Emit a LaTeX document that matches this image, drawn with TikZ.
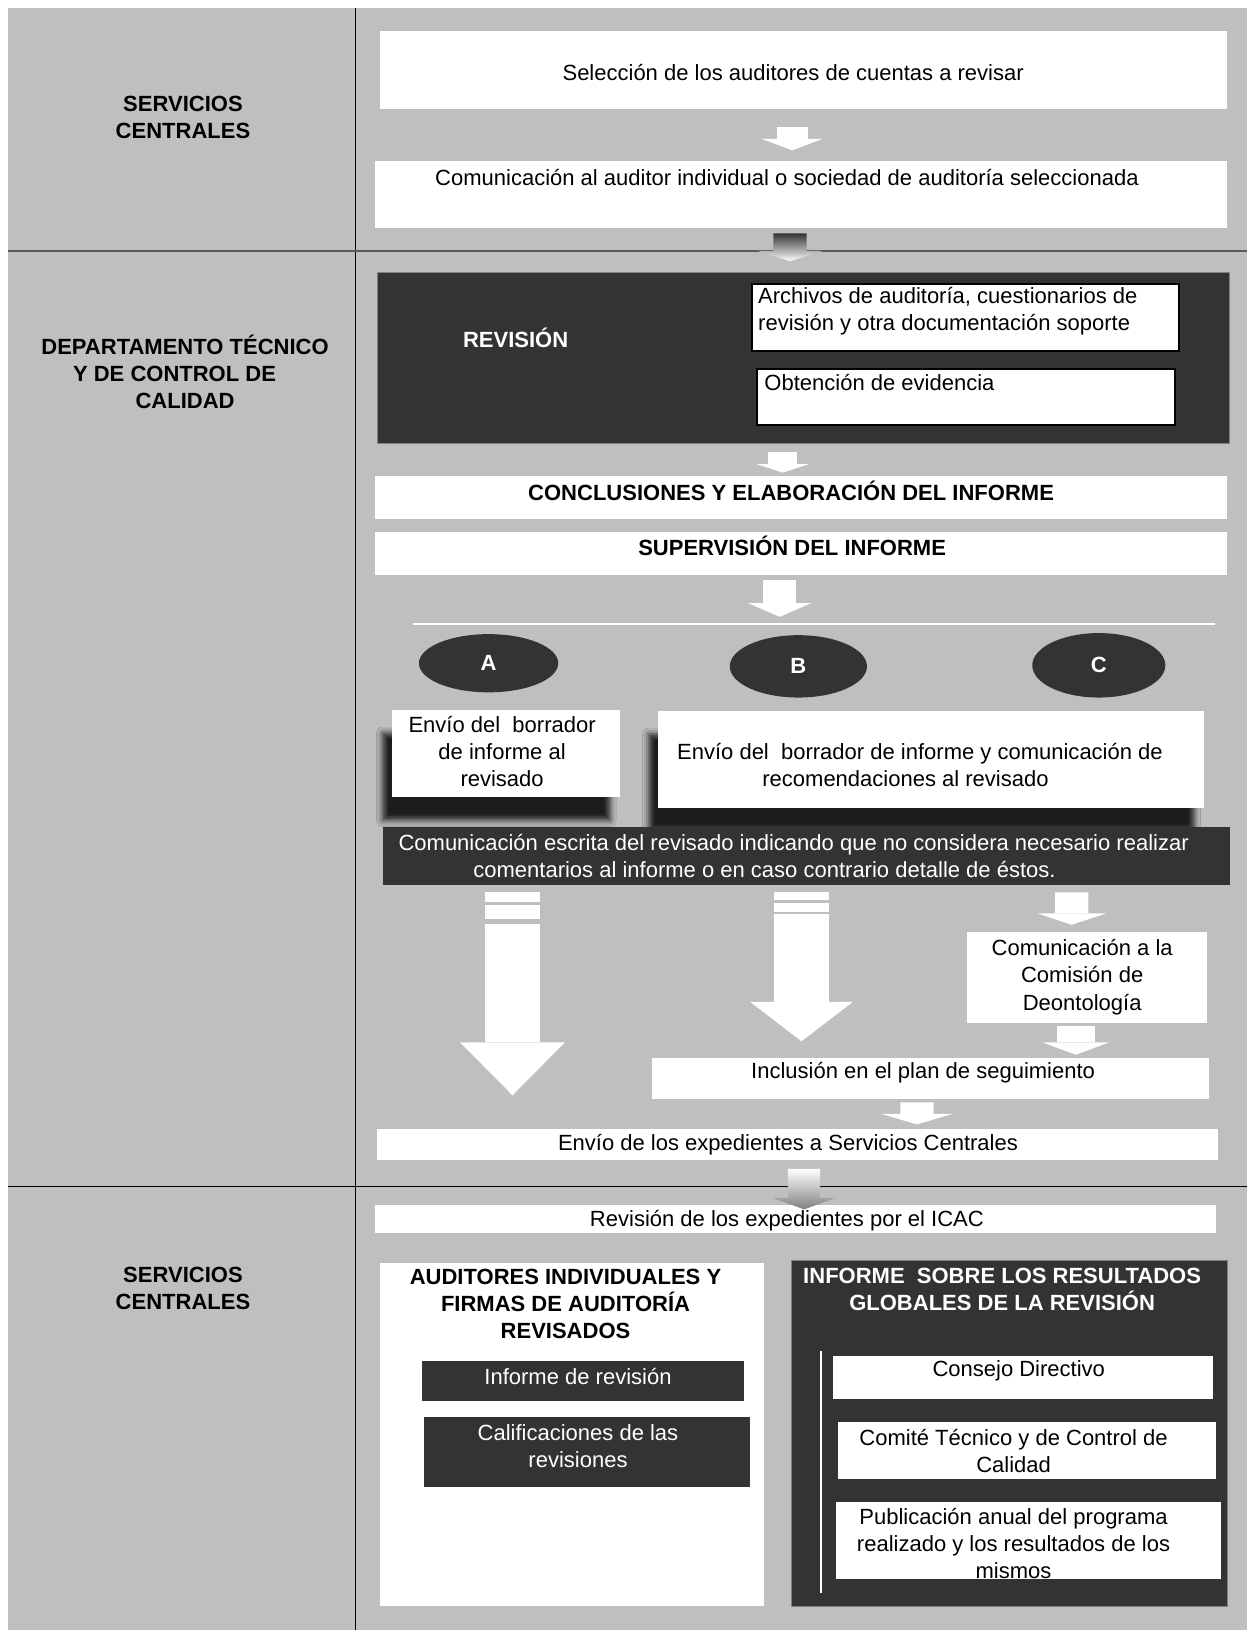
\documentclass[tikz,border=0pt]{standalone}
\usepackage{fontspec}
\setmainfont{Liberation Sans}
\usetikzlibrary{arrows.meta, positioning, fit, calc, shapes.geometric, shadows.blur}

\newdimen\pxu \pxu=0.5196pt

\definecolor{lanegray}{RGB}{191,191,191}
\definecolor{panel}{RGB}{51,51,51}
\definecolor{rulegray}{RGB}{90,90,90}

\tikzset{
  wbox/.style={fill=white, inner sep=0pt},
  dbox/.style={fill=panel, inner sep=0pt},
  txt/.style={font=\fontsize{11}{13.5}\selectfont, align=center, inner sep=0pt},
  btxt/.style={txt, font=\fontsize{11}{13.5}\selectfont\bfseries},
  wtxt/.style={txt, text=white},
  lanetxt/.style={btxt},
  oval/.style={ellipse, fill=panel, inner sep=0pt, text=white, font=\fontsize{11}{13.5}\selectfont\bfseries},
  shadowed/.style={blur shadow={shadow xshift=-4.7pt, shadow yshift=-11.5pt, shadow blur radius=3pt, shadow opacity=85}},
  % shaft width in picture units, head width and length in pt
  fat/.style n args={3}{draw=white, line width=#1\pxu, -{Triangle[width=#2, length=#3, line width=0pt]}}
}

\begin{document}
\begin{tikzpicture}[x=0.5196pt, y=-0.5196pt]
\useasboundingbox (0,0) rectangle (1200,1568);

% lanes
\fill[lanegray] (8,8) rectangle (1200,1568);
\draw[line width=0.6pt] (342,8) -- (342,1568);
\draw[rulegray, line width=1pt] (8,241) -- (1200,241);
\draw[line width=0.6pt] (8,1141) -- (1200,1141);

\node[lanetxt] (sc1) at (176,113) {SERVICIOS\\CENTRALES};
\node[lanetxt] (dtc) at (178,358) {DEPARTAMENTO TÉCNICO\\Y DE CONTROL DE\rule{10.5pt}{0pt}\\CALIDAD};
\node[lanetxt] (sc2) at (176,1239) {SERVICIOS\\CENTRALES};

% servicios centrales
\node[wbox, fit={(366,30) (1180,105)}] (sel) {};
\node[txt] (selT) at (763,70) {Selección de los auditores de cuentas a revisar};
\node[wbox, fit={(361,155) (1180,219)}] (com) {};
\node[txt] (comT) at (757,171) {Comunicación al auditor individual o sociedad de auditoría seleccionada};

% revision
\node[dbox, draw=gray, line width=0.5pt, fit={(363,262) (1183,427)}] (rev) {};
\node[wtxt, font=\fontsize{11}{13.5}\selectfont\bfseries] (revT) at (496,325) {REVISIÓN};
\node[wbox, draw=black, line width=1pt, fit={(723,273) (1134,338)}] (arch) {};
\node[txt, anchor=west, align=left] (archT) at (729,299) {Archivos de auditoría, cuestionarios de\\revisión y otra documentación soporte};
\node[wbox, draw=black, line width=1pt, fit={(728,355) (1130,409)}] (obt) {};
\node[txt, anchor=west] (obtT) at (735,368) {Obtención de evidencia};

\node[wbox, fit={(361,458) (1180,499)}] (conc) {};
\node[btxt] (concT) at (761,472) {CONCLUSIONES Y ELABORACIÓN DEL INFORME};
\node[wbox, fit={(361,512) (1180,553)}] (sup) {};
\node[btxt] (supT) at (762,525) {SUPERVISIÓN DEL INFORME};

% branches
\coordinate (brL) at (397,600);
\coordinate (brR) at (1169,600);
\draw[white, line width=1pt] (brL) -- (brR);
\node[oval, minimum width=134\pxu, minimum height=56\pxu] (optA) at (470,638) {A};
\node[oval, minimum width=132\pxu, minimum height=60\pxu] (optB) at (768,641) {B};
\node[oval, minimum width=128\pxu, minimum height=62\pxu] (optC) at (1057,640) {C};

\node[wbox, shadowed, fit={(377,683) (596,767)}] (envA) {};
\node[txt] (envAT) at (483,723) {Envío del\ \ borrador\\de informe al\\revisado};
\node[wbox, shadowed, fit={(633,684) (1158,777)}] (envB) {};
\node[txt, anchor=west, align=left] (envBT) at (651,736) {Envío del\ \ borrador de informe y comunicación de\\\hspace*{42.6pt}recomendaciones al revisado};

\node[dbox, fit={(368,796) (1183,851)}] (cmt) {};
\node[wtxt, anchor=west, align=left] (cmtT) at (383,823) {Comunicación escrita del revisado indicando que no considera necesario realizar\\\hspace*{37.4pt}comentarios al informe o en caso contrario detalle de éstos.};

\node[wbox, fit={(930,897) (1161,984)}] (deon) {};
\node[txt] (deonT) at (1041,940) {Comunicación a la\\Comisión de\\Deontología};
\node[wbox, fit={(627,1018) (1163,1057)}] (incl) {};
\node[txt] (inclT) at (888,1032) {Inclusión en el plan de seguimiento};
\node[wbox, fit={(363,1086) (1172,1116)}] (env) {};
\node[txt] (envT) at (758,1101) {Envío de los expedientes a Servicios Centrales};

% servicios centrales (final)
\node[wbox, fit={(361,1159) (1170,1186)}] (icac) {};
\node[txt] (icacT) at (757,1174) {Revisión de los expedientes por el ICAC};

\node[wbox, fit={(366,1215) (735,1545)}] (aud) {};
\node[btxt] (audT) at (544,1254) {AUDITORES INDIVIDUALES Y\\FIRMAS DE AUDITORÍA\\REVISADOS};
\node[dbox, fit={(406,1309) (716,1348)}] (infr) {};
\node[wtxt] (infrT) at (556,1324) {Informe de revisión};
\node[dbox, fit={(408,1363) (721,1430)}] (calif) {};
\node[wtxt] (califT) at (556,1391) {Calificaciones de las\\revisiones};

\node[dbox, draw=gray, line width=0.5pt, fit={(761,1213) (1181,1545)}] (glob) {};
\node[wtxt, font=\fontsize{11}{13.5}\selectfont\bfseries] (globT) at (964,1240) {INFORME\ \ SOBRE LOS RESULTADOS\\GLOBALES DE LA REVISIÓN};
\draw[white, line width=0.8pt] (790,1300) -- (790,1532);
\node[wbox, fit={(801,1304) (1167,1346)}] (cons) {};
\node[txt] (consT) at (980,1319) {Consejo Directivo};
\node[wbox, fit={(806,1368) (1170,1423)}] (comi) {};
\node[txt] (comiT) at (975,1396) {Comité Técnico y de Control de\\Calidad};
\node[wbox, fit={(804,1445) (1175,1519)}] (publ) {};
\node[txt] (publT) at (975,1485) {Publicación anual del programa\\realizado y los resultados de los\\mismos};

% block arrows
\draw[fat={30}{30.1pt}{5.7pt}] ($(sel.south)+(-11,17)$) -- ($(com.north)+(-8.5,-10)$);
\shade[top color=panel, bottom color=white]
  ($(com.south)+(-26.5,5)$) -- ++(32,0) -- ++(0,17) -- ++(15,0) -- ++(-31,10) -- ++(-31,-10) -- ++(15,0) -- cycle;
\draw[fat={28}{26pt}{4.2pt}] ($(rev.south)+(-20,7)$) -- ($(conc.north)+(-17.5,-3)$);
\draw[fat={32}{31.2pt}{6.8pt}] ($(sup.south)+(-20.5,5)$) -- ($(sup.south)+(-20.5,40)$);

\draw[fat={52}{52.5pt}{26.5pt}, dash pattern=on 4.7pt off 1.6pt on 7pt off 2.6pt on 300pt]
  ($(cmt.south)+(-282.5,7)$) -- ($(env.north)+(-274.5,-32)$);
\draw[fat={52}{51.4pt}{19.7pt}, dash pattern=on 3.8pt off 1.35pt on 4.6pt off 1.15pt on 300pt]
  ($(cmt.south)+(-4.5,7)$) -- ($(incl.north)+(-124,-16)$);
\draw[fat={32}{34.3pt}{5.7pt}] ($(cmt.south)+(255.5,7)$) -- ($(deon.north)+(-14.5,-7)$);
\draw[fat={36}{33.3pt}{6.2pt}] ($(deon.south)+(-10.5,3)$) -- ($(incl.north)+(140,-3)$);
\draw[fat={32}{35.3pt}{5.2pt}] ($(incl.south)+(-13,3)$) -- ($(env.north)+(114.5,-4)$);
\shade[top color=white, bottom color=gray]
  ($(env.south)+(-9.5,8)$) -- ++(31,0) -- ++(0,28) -- ++(14.5,0) -- ++(-30,11) -- ++(-30,-11) -- ++(14.5,0) -- cycle;
\end{tikzpicture}
\end{document}
